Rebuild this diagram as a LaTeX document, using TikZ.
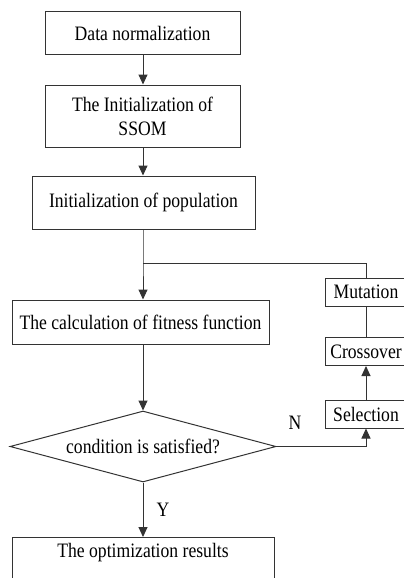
\documentclass[tikz,border=0pt]{standalone}
\usepackage{fontspec}
\setmainfont{Liberation Serif}[FakeStretch=0.86]
\usetikzlibrary{arrows.meta,shapes.geometric}
\begin{document}
\begin{tikzpicture}[x=1pt,y=-1pt,
  txt/.style={font=\fontsize{20.5}{24}\selectfont},
  box/.style={draw=black!80, line width=1pt, rectangle, inner sep=0pt, txt, align=center},
  sbox/.style={box, minimum width=82pt, minimum height=28pt},
  conn/.style={draw=black!80, line width=1pt},
  arr/.style={conn, -{Triangle[length=10pt,width=9pt]}},
  lbl/.style={txt, inner sep=0pt}]
\useasboundingbox (0,0) rectangle (404,578);
\clip (0,0) rectangle (404,578);
\node[box, minimum width=195pt, minimum height=43pt] (dn) at (142.5,33.5) {Data normalization};
\node[box, minimum width=195pt, minimum height=62pt] (ssom) at (142.5,116) {The Initialization of\\SSOM};
\node[box, minimum width=223pt, minimum height=53pt] (pop) at (143.5,202.5) {Initialization of population};
\node[box, minimum width=257pt, minimum height=44pt] (calc) at (140.5,322) {The calculation of fitness function};
\node[draw=black!80, line width=1pt, diamond, aspect=3.75, inner sep=0pt,
  minimum width=266pt, minimum height=71pt, txt] (cond) at (143,446.5) {condition is satisfied?};
\node[box, minimum width=262pt, text height=20pt, text depth=36pt, anchor=north] (res) at (143,537) {The optimization results};
\node[sbox] (mut) at (366,292) {Mutation};
\node[sbox] (cro) at (366,351.5) {Crossover};
\node[sbox] (sel) at (366,414) {Selection};
\coordinate (j) at (143,263);
\coordinate (jr) at (366,263);
\draw[arr] (dn.south -| 143,0) -- (ssom.north -| 143,0);
\draw[arr] (ssom.south -| 143,0) -- (pop.north -| 143,0);
\draw[arr] (pop.south -| j) -- (j) -- (calc.north -| j);
\draw[conn] (j) -- (jr) -- (mut.north);
\draw[conn] (mut.south) -- (cro.north);
\draw[arr] (sel.north) -- (cro.south);
\draw[arr] (calc.south -| cond.north) -- (cond.north);
\draw[arr] (cond.east) -| (sel.south);
\draw[arr] (cond.south) -- (res.north);
\node[lbl] (n) at (295,423) {N};
\node[lbl] (y) at (163,510) {Y};
\end{tikzpicture}
\end{document}
